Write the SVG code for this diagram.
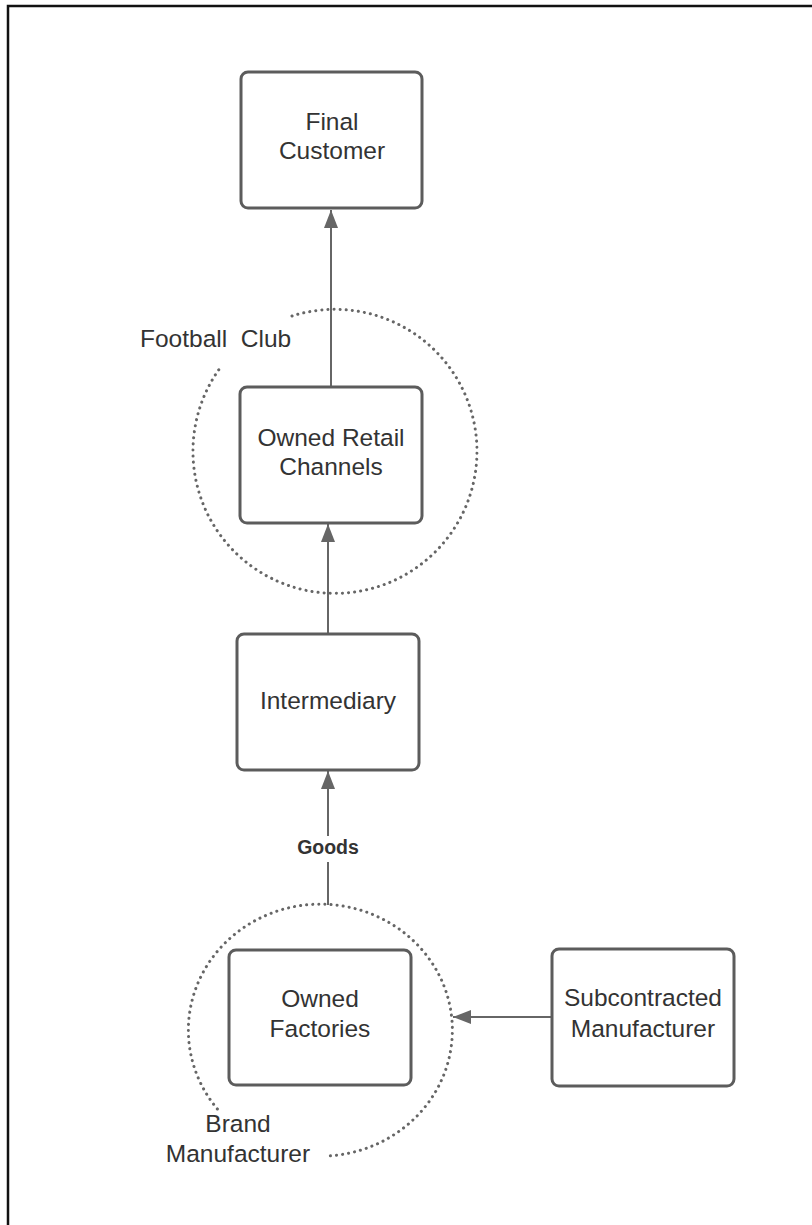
<svg xmlns="http://www.w3.org/2000/svg" width="812" height="1225" viewBox="0 0 812 1225">
<style>
.box{fill:#fff;stroke:#5c5c5c;stroke-width:3}
.t{font-family:"Liberation Sans",Arial,sans-serif;font-size:24.5px;fill:#333;text-anchor:middle}
.lbl{font-family:"Liberation Sans",Arial,sans-serif;font-size:24.5px;fill:#333}
.edge{stroke:#666;stroke-width:2;fill:none}
.dot{stroke:#666;stroke-width:3;fill:none;stroke-dasharray:0.1 6;stroke-linecap:round}
</style>
<defs>
<marker id="ah" markerUnits="userSpaceOnUse" markerWidth="20" markerHeight="16" refX="18" refY="7" orient="auto">
<path d="M0,0 L18,7 L0,14 Z" fill="#666"/>
</marker>
</defs>
<rect width="812" height="1225" fill="#fff"/>
<rect x="8" y="6" width="900" height="1300" fill="none" stroke="#111" stroke-width="2.5"/>
<g id="football-club">
<path class="dot" d="M292,316 A142,142 0 1 1 220,368"/>
<text class="lbl" x="140" y="347" xml:space="preserve">Football  Club</text>
</g>
<g id="brand-manufacturer">
<path class="dot" d="M217.4,1109 A132,126 0 1 1 327,1156"/>
<text class="t" x="238" y="1132">Brand</text>
<text class="t" x="238" y="1162">Manufacturer</text>
</g>
<g id="connectors">
<line class="edge" x1="331" y1="387" x2="331" y2="210" marker-end="url(#ah)"/>
<line class="edge" x1="328" y1="634" x2="328" y2="524" marker-end="url(#ah)"/>
<line class="edge" x1="328" y1="905" x2="328" y2="771" marker-end="url(#ah)"/>
<rect x="292" y="836" width="72" height="26" fill="#fff"/>
<text x="328" y="854" font-family="'Liberation Sans',Arial,sans-serif" font-size="19.5" font-weight="bold" fill="#333" text-anchor="middle">Goods</text>
<line class="edge" x1="552" y1="1017" x2="453" y2="1017" marker-end="url(#ah)"/>
</g>
<g id="final-customer">
<rect class="box" x="241" y="72" width="181" height="136" rx="7"/>
<text class="t" x="332" y="130">Final</text>
<text class="t" x="332" y="159">Customer</text>
</g>
<g id="owned-retail-channels">
<rect class="box" x="240" y="387" width="182" height="136" rx="7"/>
<text class="t" x="331" y="446">Owned Retail</text>
<text class="t" x="331" y="475">Channels</text>
</g>
<g id="intermediary">
<rect class="box" x="237" y="634" width="182" height="136" rx="7"/>
<text class="t" x="328" y="709">Intermediary</text>
</g>
<g id="owned-factories">
<rect class="box" x="229" y="950" width="182" height="135" rx="7"/>
<text class="t" x="320" y="1007">Owned</text>
<text class="t" x="320" y="1037">Factories</text>
</g>
<g id="subcontracted-manufacturer">
<rect class="box" x="552" y="949" width="182" height="137" rx="7"/>
<text class="t" x="643" y="1006">Subcontracted</text>
<text class="t" x="643" y="1037">Manufacturer</text>
</g>
</svg>
